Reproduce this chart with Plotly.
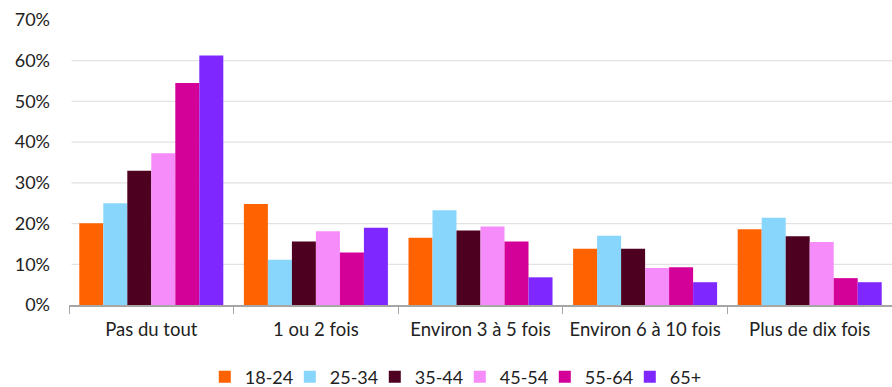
import plotly.graph_objects as go

categories = ["Pas du tout", "1 ou 2 fois", "Environ 3 à 5 fois", "Environ 6 à 10 fois", "Plus de dix fois"]
age_groups = ["18-24", "25-34", "35-44", "45-54", "55-64", "65+"]
colors = ["#FF6200", "#89D6FD", "#4E0020", "#F68BFA", "#D40199", "#7F27FF"]

values_18_24 = [20.1, 24.8, 16.5, 13.8, 18.6]
values_25_34 = [25.0, 11.1, 23.3, 17.0, 21.4]
values_35_44 = [33.0, 15.6, 18.3, 13.8, 16.9]
values_45_54 = [37.3, 18.1, 19.3, 9.1, 15.5]
values_55_64 = [54.5, 12.9, 15.6, 9.3, 6.6]
values_65_plus = [61.3, 19.0, 6.8, 5.6, 5.6]
series = [values_18_24, values_25_34, values_35_44, values_45_54, values_55_64, values_65_plus]

y_ticks = [0, 10, 20, 30, 40, 50, 60, 70]
y_tick_labels = [f"{v}%" for v in y_ticks]

FONT = "Lato"
TEXT = "#222222"

fig = go.Figure()
for name, vals, col in zip(age_groups, series, colors):
    fig.add_trace(go.Bar(
        x=categories, y=vals, name=name,
        marker=dict(color=col, line=dict(width=0)),
    ))

# horizontal gridlines (no line at the top of the range)
for v in y_ticks[1:-1]:
    fig.add_shape(type="line", xref="paper", yref="y",
                  x0=0.003, x1=1, y0=v, y1=v,
                  line=dict(color="#E2E2E2", width=1.2), layer="below")

fig.update_layout(
    width=892, height=387,
    margin=dict(l=69, r=0, t=20, b=82, autoexpand=False),
    paper_bgcolor="white", plot_bgcolor="white",
    barmode="group", bargap=0.125, bargroupgap=0,
    font=dict(family=FONT, size=18, color=TEXT),
    showlegend=True,
    legend=dict(orientation="h", x=0.165, xanchor="left", y=-0.188, yanchor="top",
                font=dict(family=FONT, size=18, color=TEXT),
                entrywidth=40, entrywidthmode="pixels",
                itemwidth=30, tracegroupgap=0),
)
fig.update_xaxes(
    showgrid=False, showline=True, linecolor="#A6A6A6", linewidth=1.5,
    ticks="outside", tickson="boundaries", ticklen=7, tickcolor="#A6A6A6",
    ticklabelstandoff=7,
    tickfont=dict(family=FONT, size=18.5, color=TEXT),
)
fig.update_yaxes(
    range=[0, 70], tickvals=y_ticks, ticktext=y_tick_labels,
    showgrid=False, zeroline=False, showline=False, ticks="",
    ticklabelstandoff=18,
    tickfont=dict(family=FONT, size=18, color=TEXT),
)

fig.write_html("out.html")
